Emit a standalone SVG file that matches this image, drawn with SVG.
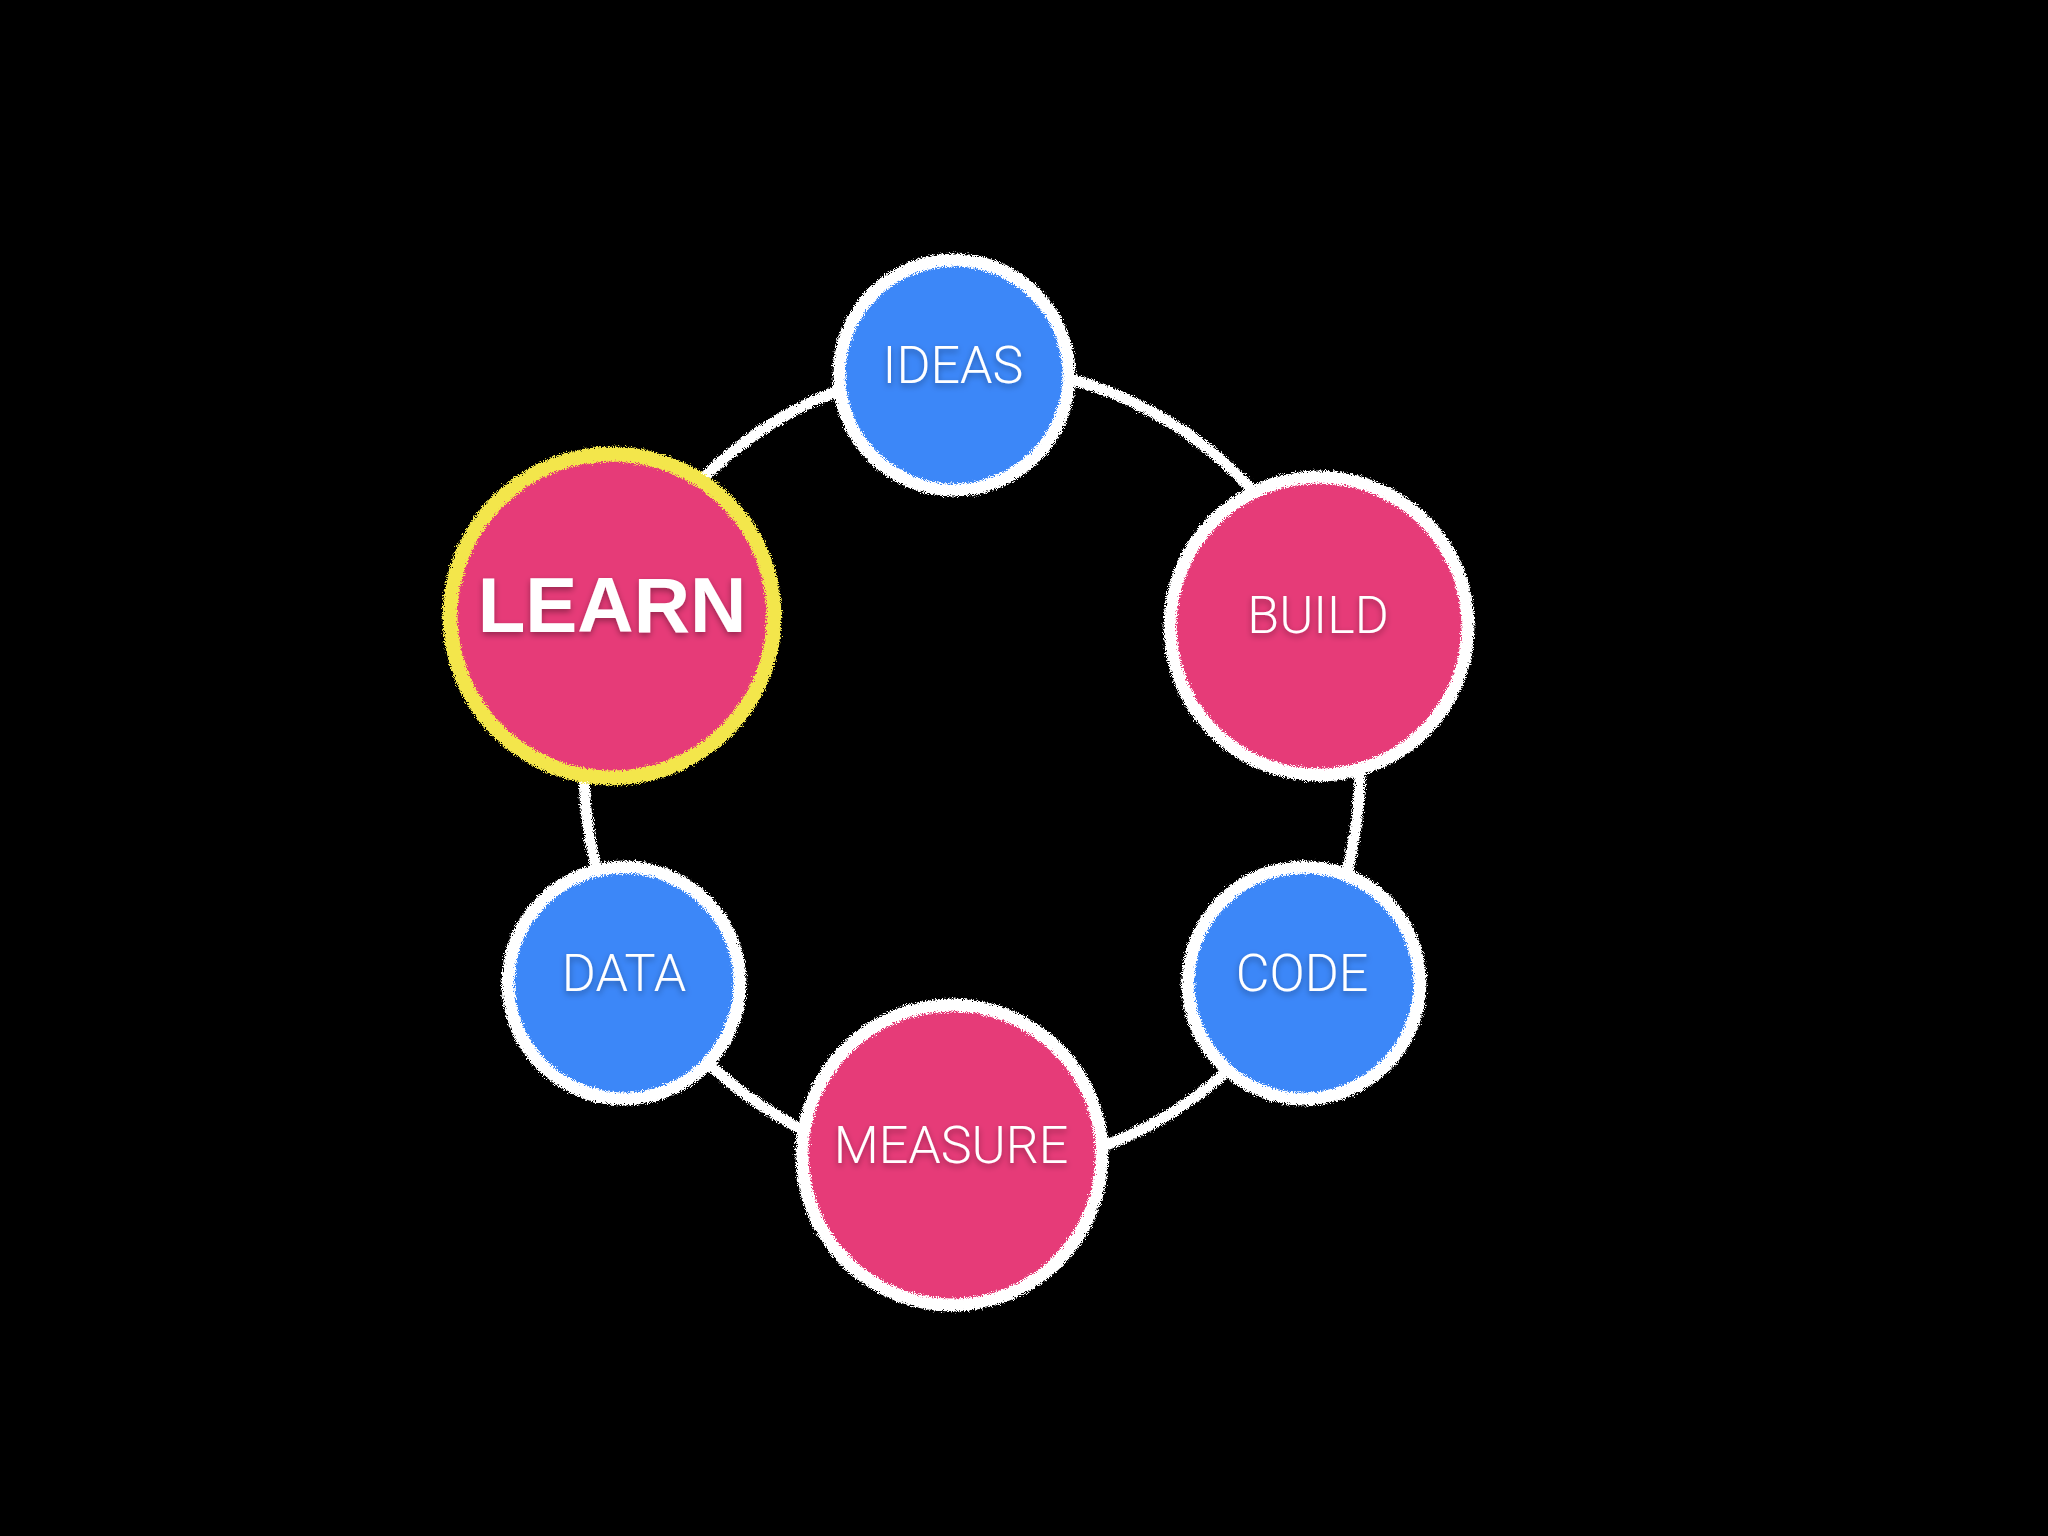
<svg xmlns="http://www.w3.org/2000/svg" width="2048" height="1536" viewBox="0 0 2048 1536">
  <defs>
    <filter id="chalk" x="-20%" y="-20%" width="140%" height="140%">
      <feTurbulence type="fractalNoise" baseFrequency="1.1" numOctaves="2" seed="3" result="noise"/>
      <feDisplacementMap in="SourceGraphic" in2="noise" scale="8" xChannelSelector="R" yChannelSelector="G"/>
    </filter>
    <filter id="shadow" x="-20%" y="-40%" width="140%" height="180%">
      <feDropShadow dx="0" dy="3" stdDeviation="3" flood-color="#000000" flood-opacity="0.35"/>
    </filter>
    <style>
      .ring { fill: none; stroke: #ffffff; stroke-width: 11; }
      .blue { fill: #3c87f8; }
      .pink { fill: #e63b78; }
      .border { fill: none; stroke: #ffffff; stroke-width: 13; }
      .border-hl { fill: none; stroke: #f3e64b; stroke-width: 15; }
      .label { font-family: Roboto, "Open Sans", "Liberation Sans", sans-serif; font-weight: 300; font-size: 52px; fill: #ffffff; text-anchor: middle; }
      .label-bold { font-family: "Liberation Sans", Arial, sans-serif; font-weight: 700; font-size: 78px; fill: #ffffff; text-anchor: middle; }
    </style>
  </defs>
  <rect x="0" y="0" width="2048" height="1536" fill="#000000"/>

  <g id="connectors">
    <ellipse class="ring" cx="972" cy="768" rx="388" ry="402" filter="url(#chalk)"/>
  </g>

  <g id="node-ideas">
    <circle class="blue" cx="954" cy="375" r="116"/>
    <circle class="border" cx="954" cy="375" r="115" filter="url(#chalk)"/>
    <text class="label" x="953" y="383" filter="url(#shadow)">IDEAS</text>
  </g>

  <g id="node-build">
    <circle class="pink" cx="1319" cy="626" r="150"/>
    <circle class="border" cx="1319" cy="626" r="149" filter="url(#chalk)"/>
    <text class="label" x="1318" y="633" filter="url(#shadow)">BUILD</text>
  </g>

  <g id="node-code">
    <circle class="blue" cx="1304" cy="983" r="117"/>
    <circle class="border" cx="1304" cy="983" r="116" filter="url(#chalk)"/>
    <text class="label" x="1302" y="991" filter="url(#shadow)">CODE</text>
  </g>

  <g id="node-measure">
    <circle class="pink" cx="952" cy="1155" r="151"/>
    <circle class="border" cx="952" cy="1155" r="150" filter="url(#chalk)"/>
    <text class="label" x="951" y="1163" filter="url(#shadow)">MEASURE</text>
  </g>

  <g id="node-data">
    <circle class="blue" cx="624" cy="983" r="117"/>
    <circle class="border" cx="624" cy="983" r="116" filter="url(#chalk)"/>
    <text class="label" x="624" y="991" filter="url(#shadow)">DATA</text>
  </g>

  <g id="node-learn">
    <circle class="pink" cx="612" cy="616" r="163"/>
    <circle class="border-hl" cx="612" cy="616" r="162" filter="url(#chalk)"/>
    <text class="label-bold" x="612" y="632" filter="url(#shadow)">LEARN</text>
  </g>
</svg>
